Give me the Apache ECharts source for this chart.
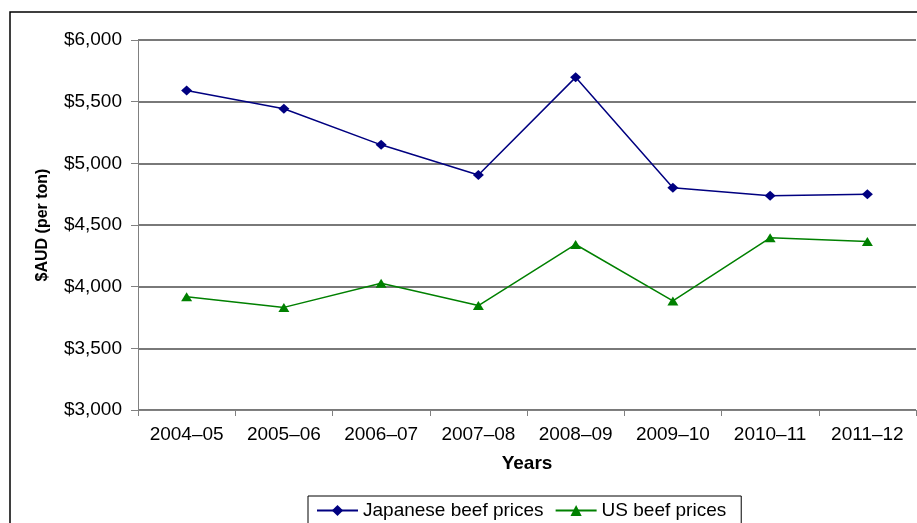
<!DOCTYPE html>
<html>
<head>
<meta charset="UTF-8">
<script src="https://cdn.jsdelivr.net/npm/echarts@6/dist/echarts.min.js"></script>
<style>
  html, body { margin: 0; padding: 0; background: #fff; }
  #chart { width: 917px; height: 523px; }
</style>
</head>
<body>
<div id="chart"></div>
<script>
// beef prices
const years = ['2004–05', '2005–06', '2006–07', '2007–08', '2008–09', '2009–10', '2010–11', '2011–12'];
const japanesePrices = [5590, 5442, 5150, 4905, 5697, 4803, 4738, 4750];
const usPrices = [3918, 3832, 4027, 3847, 4342, 3884, 4396, 4366];
const yTicks = [3000, 3500, 4000, 4500, 5000, 5500, 6000];

const chart = echarts.init(document.getElementById('chart'));
const font = 'Liberation Sans, Arial, sans-serif';

const option = {
    animation: false,
    backgroundColor: '#fff',
    textStyle: { fontFamily: font },
    graphic: [
        {
            type: 'rect',
            shape: { x: 10, y: 12, width: 1000, height: 700 },
            style: { fill: 'none', stroke: '#000', lineWidth: 1.5 },
            silent: true
        }
    ],
    grid: { left: 138, top: 40, right: 1, bottom: 113, containLabel: false },
    legend: {
        left: 308,
        top: 496,
        padding: [5, 15, 5, 8],
        borderColor: '#000',
        borderWidth: 1,
        itemGap: 11,
        itemWidth: 41,
        itemHeight: 14,
        textStyle: { fontSize: 19, color: '#000', fontFamily: font },
        data: ['Japanese beef prices', 'US beef prices']
    },
    xAxis: {
        type: 'category',
        data: years,
        boundaryGap: true,
        name: 'Years',
        nameLocation: 'middle',
        nameGap: 44,
        nameTextStyle: { fontSize: 19, fontWeight: 'bold', color: '#000' },
        axisLine: { lineStyle: { color: '#808080', width: 1 } },
        axisTick: { show: true, length: 6, lineStyle: { color: '#808080' } },
        axisLabel: { fontSize: 19, color: '#000', margin: 15 },
        splitLine: { show: false }
    },
    yAxis: {
        type: 'value',
        min: yTicks[0],
        max: yTicks[yTicks.length - 1],
        interval: 500,
        name: '$AUD (per ton)',
        nameLocation: 'middle',
        nameGap: 87,
        nameTextStyle: { fontSize: 16, fontWeight: 'bold', color: '#000' },
        axisLine: { show: true, lineStyle: { color: '#808080', width: 1 } },
        axisTick: { show: true, length: 7, lineStyle: { color: '#808080' } },
        axisLabel: {
            fontSize: 19,
            color: '#000',
            margin: 16,
            formatter: v => '$' + v.toLocaleString('en-US')
        },
        splitLine: { show: true, lineStyle: { color: '#4d4d4d', width: 1.5 } }
    },
    series: [
        {
            name: 'Japanese beef prices',
            type: 'line',
            data: japanesePrices,
            symbol: 'diamond',
            symbolSize: [11, 10],
            color: '#000080',
            lineStyle: { color: '#000080', width: 1.5 },
            itemStyle: { color: '#000080' }
        },
        {
            name: 'US beef prices',
            type: 'line',
            data: usPrices,
            symbol: 'triangle',
            symbolSize: [11, 9],
            color: '#008000',
            lineStyle: { color: '#008000', width: 1.5 },
            itemStyle: { color: '#008000' }
        }
    ]
};

chart.setOption(option);
</script>
</body>
</html>
